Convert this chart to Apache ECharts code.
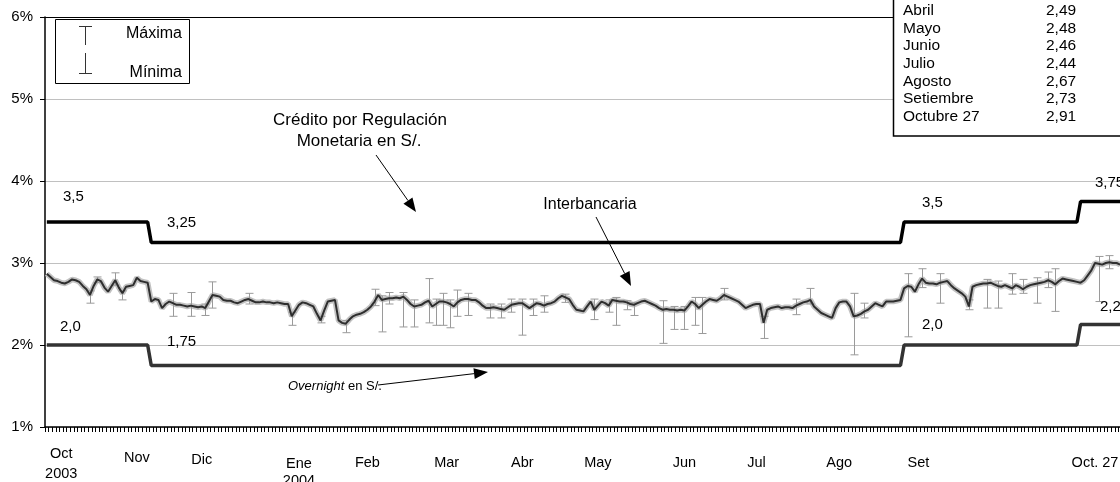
<!DOCTYPE html>
<html>
<head>
<meta charset="utf-8">
<script src="https://cdn.jsdelivr.net/npm/echarts@6/dist/echarts.min.js"></script>
<style>
  html, body { margin: 0; padding: 0; background: #fff; }
  #chart { width: 1120px; height: 482px; }
</style>
</head>
<body>
<div id="chart"></div>
<script>
// tasa interbancaria diaria (%), oct 2003 - oct 27 2004
const interbancaria = [
  2.87, 2.83, 2.79, 2.78, 2.76, 2.75, 2.77, 2.80, 2.79, 2.77,
  2.72, 2.68, 2.61, 2.72, 2.80, 2.78, 2.70, 2.65, 2.72, 2.79,
  2.70, 2.63, 2.71, 2.72, 2.73, 2.82, 2.78, 2.77, 2.76, 2.53,
  2.56, 2.55, 2.45, 2.50, 2.53, 2.51, 2.49, 2.49, 2.48, 2.47,
  2.48, 2.47, 2.46, 2.47, 2.45, 2.53, 2.61, 2.60, 2.59, 2.55,
  2.54, 2.54, 2.52, 2.51, 2.53, 2.55, 2.56, 2.54, 2.52, 2.52,
  2.53, 2.52, 2.52, 2.51, 2.52, 2.51, 2.50, 2.50, 2.35, 2.42,
  2.49, 2.52, 2.51, 2.49, 2.47, 2.38, 2.30, 2.42, 2.53, 2.54,
  2.55, 2.30, 2.27, 2.26, 2.31, 2.35, 2.37, 2.38, 2.40, 2.43,
  2.47, 2.53, 2.61, 2.55, 2.56, 2.57, 2.57, 2.58, 2.57, 2.59,
  2.55, 2.50, 2.47, 2.48, 2.49, 2.52, 2.54, 2.47, 2.50, 2.53,
  2.53, 2.52, 2.50, 2.47, 2.52, 2.55, 2.56, 2.56, 2.55, 2.55,
  2.52, 2.48, 2.45, 2.45, 2.46, 2.45, 2.44, 2.43, 2.46, 2.49,
  2.50, 2.51, 2.51, 2.48, 2.45, 2.48, 2.51, 2.50, 2.48, 2.50,
  2.51, 2.53, 2.57, 2.60, 2.58, 2.56, 2.49, 2.43, 2.42, 2.41,
  2.47, 2.53, 2.43, 2.48, 2.53, 2.51, 2.48, 2.55, 2.54, 2.53,
  2.53, 2.52, 2.50, 2.49, 2.51, 2.53, 2.54, 2.52, 2.50, 2.48,
  2.45, 2.43, 2.44, 2.43, 2.43, 2.42, 2.43, 2.42, 2.47, 2.53,
  2.50, 2.45, 2.49, 2.53, 2.56, 2.55, 2.54, 2.57, 2.61, 2.59,
  2.57, 2.55, 2.53, 2.49, 2.45, 2.47, 2.49, 2.50, 2.50, 2.27,
  2.43, 2.45, 2.46, 2.47, 2.45, 2.46, 2.46, 2.45, 2.48, 2.50,
  2.52, 2.53, 2.55, 2.47, 2.43, 2.39, 2.37, 2.35, 2.33, 2.45,
  2.52, 2.53, 2.53, 2.47, 2.35, 2.36, 2.38, 2.41, 2.43, 2.47,
  2.51, 2.49, 2.47, 2.53, 2.53, 2.53, 2.54, 2.55, 2.69, 2.72,
  2.71, 2.65, 2.74, 2.81, 2.76, 2.75, 2.75, 2.74, 2.76, 2.77,
  2.78, 2.73, 2.69, 2.66, 2.63, 2.59, 2.47, 2.71, 2.73, 2.74,
  2.75, 2.75, 2.76, 2.74, 2.72, 2.71, 2.73, 2.71, 2.69, 2.73,
  2.71, 2.68, 2.71, 2.73, 2.74, 2.75, 2.76, 2.77, 2.79, 2.77,
  2.74, 2.78, 2.81, 2.80, 2.79, 2.78, 2.77, 2.76, 2.79, 2.85,
  2.91, 3.00, 2.99, 2.98, 3.00, 3.01, 3.00, 3.00, 2.98
];

// barras máxima / mínima visibles: [día, mínima, máxima]
const rangos = [
  [12, 2.51, 2.66], [14, 2.76, 2.83], [19, 2.73, 2.88], [21, 2.55, 2.66],
  [35, 2.35, 2.63], [40, 2.35, 2.64], [44, 2.36, 2.50], [46, 2.45, 2.77],
  [56, 2.50, 2.63], [68, 2.24, 2.40], [76, 2.27, 2.35], [83, 2.15, 2.30],
  [91, 2.48, 2.68], [93, 2.16, 2.60], [95, 2.50, 2.64], [99, 2.22, 2.64],
  [102, 2.22, 2.55], [106, 2.27, 2.81], [108, 2.24, 2.56], [110, 2.24, 2.63],
  [112, 2.21, 2.55], [114, 2.35, 2.67], [117, 2.36, 2.63], [123, 2.33, 2.50],
  [126, 2.33, 2.50], [129, 2.40, 2.56], [132, 2.12, 2.56], [135, 2.36, 2.56],
  [138, 2.40, 2.60], [144, 2.52, 2.62], [152, 2.31, 2.56], [156, 2.40, 2.55],
  [158, 2.24, 2.58], [161, 2.43, 2.54], [163, 2.36, 2.52], [171, 2.02, 2.54],
  [174, 2.19, 2.47], [177, 2.19, 2.47], [180, 2.24, 2.58], [182, 2.14, 2.58],
  [188, 2.55, 2.69], [199, 2.08, 2.35], [208, 2.37, 2.56], [212, 2.50, 2.69],
  [224, 1.88, 2.63], [227, 2.33, 2.51], [239, 2.10, 2.87], [243, 2.70, 2.93],
  [248, 2.51, 2.87], [256, 2.43, 2.55], [261, 2.45, 2.80], [264, 2.45, 2.78],
  [268, 2.62, 2.87], [271, 2.63, 2.80], [275, 2.51, 2.82], [278, 2.70, 2.89],
  [280, 2.41, 2.93], [292, 2.53, 3.08], [295, 2.93, 3.09]
];

// Crédito por Regulación Monetaria y Overnight: [día, tasa]
const creditoRM = [[0, 3.5], [28, 3.5], [29, 3.25], [237, 3.25], [238, 3.5], [286, 3.5], [287, 3.75], [298, 3.75]];
const overnight = [[0, 2.0], [28, 2.0], [29, 1.75], [237, 1.75], [238, 2.0], [286, 2.0], [287, 2.25], [298, 2.25]];

// etiquetas del eje x y la posición (día) en que van
const etiquetasMes = ['Oct\n2003', 'Nov', 'Dic', 'Ene\n2004', 'Feb', 'Mar', 'Abr', 'May', 'Jun', 'Jul', 'Ago', 'Set', 'Oct. 27'];
const diaMes = [4, 25, 43, 70, 89, 111, 132, 153, 177, 197, 220, 242, 291];

// cuadro de promedios mensuales
const cuadroMes = ['Abril', 'Mayo', 'Junio', 'Julio', 'Agosto', 'Setiembre', 'Octubre 27'];
const cuadroValor = ['2,49', '2,48', '2,46', '2,44', '2,67', '2,73', '2,91'];

const FONT = '"Liberation Sans", Arial, sans-serif';
const dias = interbancaria.map((_, i) => String(i));

const chart = echarts.init(document.getElementById('chart'));

function flecha(x1, y1, x2, y2) {
  const a = Math.atan2(y2 - y1, x2 - x1);
  const L = 14, W = 5.5;
  const bx = x2 - L * Math.cos(a), by = y2 - L * Math.sin(a);
  return [
    { type: 'line', z: 100, shape: { x1: x1, y1: y1, x2: bx, y2: by }, style: { stroke: '#000', lineWidth: 1 } },
    { type: 'polygon', z: 100, shape: { points: [[x2, y2], [bx + W * Math.sin(a), by - W * Math.cos(a)], [bx - W * Math.sin(a), by + W * Math.cos(a)]] }, style: { fill: '#000' } }
  ];
}

function texto(x, y, t, size, extra) {
  return { type: 'text', z: 101, x: x, y: y, style: Object.assign({ text: t, font: size + 'px ' + FONT, fill: '#000', textVerticalAlign: 'middle' }, extra || {}) };
}

// estilo rich de cada etiqueta del eje x (altura distinta en el original)
const estilos = ['o', 'n', 'd', 'e', 'm', 'm', 'm', 'm', 'm', 'm', 'm', 'm', 'm'];

const graficos = [
  // leyenda máxima / mínima
  { type: 'rect', z: 100, shape: { x: 55.5, y: 19.5, width: 134, height: 64 }, style: { fill: '#fff', stroke: '#000', lineWidth: 1 } },
  { type: 'line', z: 101, shape: { x1: 79, y1: 26.5, x2: 92, y2: 26.5 }, style: { stroke: '#333', lineWidth: 1 } },
  { type: 'line', z: 101, shape: { x1: 85.5, y1: 26.5, x2: 85.5, y2: 45 }, style: { stroke: '#333', lineWidth: 1 } },
  { type: 'line', z: 101, shape: { x1: 85.5, y1: 53, x2: 85.5, y2: 73.5 }, style: { stroke: '#333', lineWidth: 1 } },
  { type: 'line', z: 101, shape: { x1: 79, y1: 73.5, x2: 92, y2: 73.5 }, style: { stroke: '#333', lineWidth: 1 } },
  texto(182, 34, 'Máxima', 16, { textAlign: 'right' }),
  texto(182, 73, 'Mínima', 16, { textAlign: 'right' }),
  // rótulos de tasas
  texto(63, 197, '3,5', 15), texto(167, 223, '3,25', 15), texto(922, 203, '3,5', 15), texto(1095, 183, '3,75', 15),
  texto(60, 327, '2,0', 15), texto(167, 342, '1,75', 15), texto(922, 325, '2,0', 15), texto(1100, 307, '2,25', 15),
  // anotaciones
  texto(360, 120, 'Crédito por Regulación', 17, { textAlign: 'center' }),
  texto(359, 141, 'Monetaria en S/.', 17, { textAlign: 'center' }),
  texto(590, 205, 'Interbancaria', 16, { textAlign: 'center' }),
  { type: 'text', z: 101, x: 288, y: 386, style: { text: '{i|Overnight} en S/.', font: '13px ' + FONT, fill: '#000', textVerticalAlign: 'middle', rich: { i: { fontStyle: 'italic', fontSize: 13, fontFamily: FONT } } } }
]
  .concat(flecha(378, 385, 488, 372))
  .concat(flecha(376, 155, 416, 212))
  .concat(flecha(596, 217, 631, 286))
  .concat([
    // cuadro de promedios
    { type: 'rect', z: 100, shape: { x: 893.5, y: -5, width: 240, height: 141 }, style: { fill: '#fff', stroke: '#000', lineWidth: 1.5 } }
  ])
  .concat(cuadroMes.map((m, k) => texto(903, 11 + k * 17.6, m, 15.5)))
  .concat(cuadroValor.map((v, k) => texto(1046, 11 + k * 17.6, v, 15.5)));

const option = {
  animation: false,
  textStyle: { fontFamily: FONT },
  grid: { left: 45, right: -2, top: 17, bottom: 55, containLabel: false, outerBoundsMode: 'none' },
  xAxis: {
    type: 'category',
    data: dias,
    boundaryGap: true,
    axisLine: { lineStyle: { color: '#000', width: 1.5 } },
    axisTick: { show: true, interval: 0, length: 5, lineStyle: { color: '#000', width: 1 } },
    axisLabel: {
      interval: (i) => diaMes.includes(i),
      margin: 17,
      color: '#000',
      fontSize: 14.5,
      formatter: (v, i) => {
        const k = diaMes.indexOf(i);
        if (k < 0) return '';
        const s = estilos[k];
        const partes = etiquetasMes[k].split('\n');
        if (partes.length === 1) return '{' + s + '|' + partes[0] + '}';
        return '{' + s + '|' + partes[0] + '}\n{' + s + '2|' + partes[1] + '}';
      },
      rich: {
        o: { fontSize: 14.5, lineHeight: 20, color: '#000' },
        o2: { fontSize: 14.5, lineHeight: 20, color: '#000' },
        n: { fontSize: 14.5, lineHeight: 28, color: '#000' },
        d: { fontSize: 14.5, lineHeight: 32, color: '#000' },
        e: { fontSize: 14.5, lineHeight: 27, verticalAlign: 'bottom', color: '#000' },
        e2: { fontSize: 14.5, lineHeight: 20, color: '#000' },
        m: { fontSize: 14.5, lineHeight: 38, color: '#000' }
      }
    },
    splitLine: { show: false }
  },
  yAxis: {
    type: 'value',
    min: 1,
    max: 6,
    interval: 1,
    axisLine: { show: true, lineStyle: { color: '#000', width: 1.5 } },
    axisTick: { show: true, length: 5, lineStyle: { color: '#000' } },
    axisLabel: { formatter: '{value}%', color: '#000', fontSize: 15, margin: 12 },
    splitLine: { show: true, lineStyle: { color: ['#c0c0c0', '#c0c0c0', '#c0c0c0', '#c0c0c0', '#c0c0c0', '#000'], width: 1 } }
  },
  series: [
    {
      name: 'banda',
      type: 'line',
      data: interbancaria,
      symbol: 'none',
      silent: true,
      lineStyle: { color: '#c2c2c2', width: 5.5 },
      z: 2
    },
    {
      name: 'Máxima / Mínima',
      type: 'custom',
      data: rangos,
      z: 3,
      renderItem: (params, api) => {
        const lo = api.coord([api.value(0), api.value(1)]);
        const hi = api.coord([api.value(0), api.value(2)]);
        const x = Math.round(lo[0]) + 0.5;
        const st = { stroke: '#9a9a9a', lineWidth: 1 };
        return {
          type: 'group',
          children: [
            { type: 'line', shape: { x1: x, y1: lo[1], x2: x, y2: hi[1] }, style: st },
            { type: 'line', shape: { x1: x - 4, y1: lo[1], x2: x + 4, y2: lo[1] }, style: st },
            { type: 'line', shape: { x1: x - 4, y1: hi[1], x2: x + 4, y2: hi[1] }, style: st }
          ]
        };
      }
    },
    {
      name: 'Interbancaria',
      type: 'line',
      data: interbancaria,
      symbol: 'none',
      lineStyle: { color: '#2e2e2e', width: 2 },
      z: 4
    },
    {
      name: 'Crédito por Regulación Monetaria',
      type: 'line',
      data: creditoRM,
      symbol: 'none',
      lineStyle: { color: '#000', width: 3.5 },
      z: 5
    },
    {
      name: 'Overnight',
      type: 'line',
      data: overnight,
      symbol: 'none',
      lineStyle: { color: '#333', width: 3.5 },
      z: 5
    }
  ],
  graphic: graficos
};

chart.setOption(option);
</script>
</body>
</html>
